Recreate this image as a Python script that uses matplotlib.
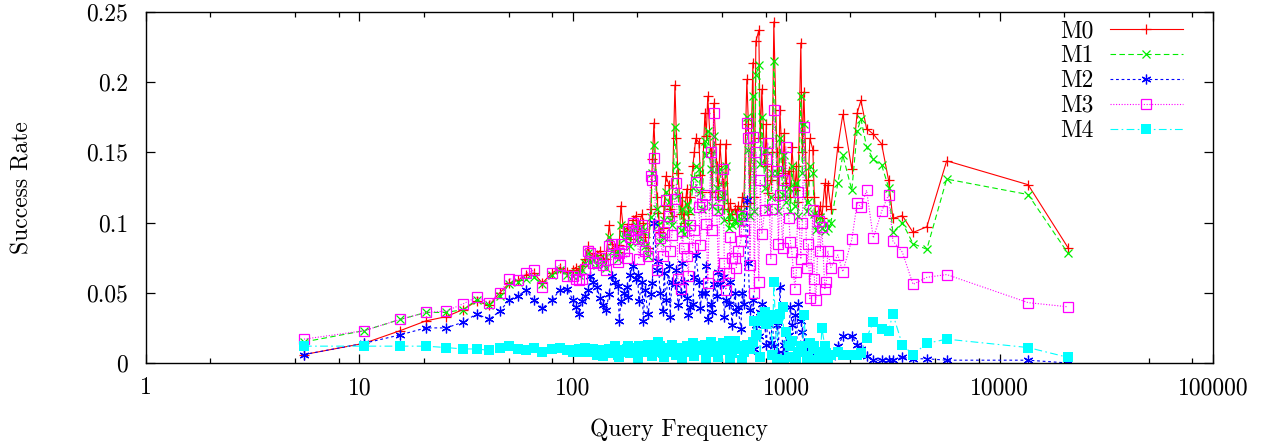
import matplotlib
matplotlib.use("Agg")
import numpy as np
import matplotlib.pyplot as plt
from matplotlib.ticker import FixedLocator, FixedFormatter, NullFormatter

# TeX-like look of the original gnuplot figure
plt.rcParams['font.family'] = 'serif'
plt.rcParams['font.serif'] = ['cmr10', 'DejaVu Serif']
plt.rcParams['axes.formatter.use_mathtext'] = True
plt.rcParams['font.size'] = 17

# query frequency (x) shared by all five methods
freq = [5.5, 10.5, 15.5, 20.5, 25.5, 30.5, 35.5, 40.5, 45.5, 50.5,
        55.5, 60.5, 65.5, 72, 80, 87, 94,
        100, 103, 107, 110, 114, 118, 121, 125, 130, 134,
        138, 143, 148, 152, 157, 163, 168, 173, 179, 185,
        191, 197, 204, 211, 218, 225, 232, 240, 248, 256,
        264, 273, 282, 291, 301, 311, 321, 331, 342, 354,
        365, 377, 390, 402, 416, 429, 443, 458, 473, 489,
        505, 521, 539, 556, 575, 594, 613, 633, 654, 676,
        698, 721, 744, 769, 794, 820, 847, 875, 904, 934,
        965, 996, 1029, 1063, 1098, 1134, 1171, 1210, 1250, 1291,
        1333, 1377, 1422, 1469, 1517, 1567, 1619, 1745, 1842,
        2030, 2150, 2240, 2380, 2560, 2800, 3020, 3160, 3500, 3930,
        4560, 5650, 13600, 20950]

m0 = [0.006, 0.014, 0.023, 0.030, 0.033, 0.038, 0.044, 0.041, 0.050, 0.057,
      0.059, 0.063, 0.064, 0.057, 0.064, 0.068, 0.065,
      .066, .068, .066, .069, .074, .083, .076, .078, .077, .080,
      .075, .074, .098, .085, .082, .079, .112, .094, .096, .088,
      .102, .105, .098, .106, .090, .082, .110, .171, .118, .093,
      .096, .133, .127, .105, .198, .135, .106, .100, .124, .118,
      .140, .160, .157, .122, .178, .190, .150, .185, .140, .156,
      .128, .156, .102, .106, .110, .112, .108, .112, .202, .114,
      .214, .229, .237, .195, .140, .121, .130, .243, .150, .180,
      .135, .128, .137, .154, .123, .115, .228, .193, .118, .160,
      .152, .105, .106, .103, .128, .127, .110, .154, .177,
      0.138, 0.178, 0.187, 0.167, 0.163, 0.156, 0.130, 0.103, 0.105, 0.093,
      0.097, 0.144, 0.127, 0.082]

m1 = [0.015, 0.023, 0.031, 0.036, 0.036, 0.038, 0.045, 0.041, 0.048, 0.056,
      0.058, 0.060, 0.061, 0.056, 0.063, 0.066, 0.063,
      .062, .064, .063, .066, .071, .078, .072, .074, .070, .075,
      .072, .068, .090, .080, .078, .074, .098, .088, .090, .083,
      .095, .098, .090, .097, .083, .076, .104, .155, .110, .086,
      .090, .122, .115, .098, .168, .120, .095, .092, .113, .108,
      .125, .140, .138, .110, .158, .165, .138, .162, .125, .138,
      .118, .140, .096, .098, .102, .105, .100, .104, .175, .105,
      .190, .205, .212, .175, .125, .110, .118, .215, .135, .160,
      .120, .115, .125, .140, .112, .105, .190, .170, .108, .140,
      .135, .095, .098, .096, .094, .096, .100, .128, .148,
      0.123, 0.165, 0.174, 0.154, 0.145, 0.141, 0.125, 0.093, 0.100, 0.085,
      0.081, 0.131, 0.120, 0.078]

m2 = [0.006, 0.014, 0.020, 0.025, 0.025, 0.029, 0.035, 0.031, 0.037, 0.045,
      0.048, 0.052, 0.045, 0.039, 0.045, 0.052, 0.053,
      .045, .040, .035, .044, .048, .052, .062, .058, .054, .046,
      .041, .038, .049, .062, .058, .055, .044, .050, .054, .063,
      .069, .060, .044, .058, .052, .035, .049, .100, .066, .050,
      .037, .045, .069, .058, .056, .041, .050, .058, .046, .040,
      .042, .077, .058, .050, .050, .031, .042, .056, .048, .056,
      .061, .045, .042, .027, .050, .040, .024, .042, .116, .038,
      .045, .027, .019, .042, .027, .032, .014, .012, .027, .054,
      .007, .014, .020, .027, .034, .042, .030, .014, .010, .007,
      .005, .008, .005, .009, .007, .005, .004, .012, .019,
      0.019, 0.013, 0.010, 0.005, 0.002, 0.002, 0.002, 0.002, 0.004, 0.003,
      0.003, 0.002, 0.002, 0.000]

m3 = [0.017, 0.023, 0.031, 0.036, 0.037, 0.042, 0.047, 0.043, 0.050, 0.060,
      0.059, 0.064, 0.066, 0.054, 0.064, 0.070, 0.062,
      .062, .060, .059, .060, .067, .080, .078, .071, .072, .075,
      .070, .066, .083, .085, .074, .072, .085, .080, .075, .090,
      .100, .095, .074, .098, .080, .076, .133, .146, .066, .089,
      .076, .116, .105, .091, .117, .060, .053, .082, .076, .098,
      .082, .129, .111, .113, .120, .057, .150, .178, .109, .120,
      .138, .052, .064, .075, .075, .080, .087, .095, .171, .070,
      .161, .150, .058, .092, .109, .157, .074, .180, .137, .120,
      .082, .154, .103, .079, .053, .122, .074, .168, .068, .046,
      .109, .045, .101, .097, .053, .080, .068, .077, .065,
      0.088, 0.114, 0.111, 0.123, 0.089, 0.108, 0.120, 0.087, 0.079, 0.056,
      0.061, 0.063, 0.043, 0.040]

m4 = [0.012, 0.012, 0.012, 0.012, 0.011, 0.010, 0.010, 0.009, 0.011, 0.012,
      0.010, 0.009, 0.011, 0.008, 0.010, 0.011, 0.009,
      .008, .009, .010, .008, .011, .009, .008, .010, .006, .009,
      .005, .008, .010, .007, .012, .006, .009, .008, .010, .007,
      .011, .009, .012, .008, .010, .013, .009, .011, .008, .012,
      .007, .010, .008, .013, .010, .007, .011, .009, .012, .008,
      .014, .010, .012, .009, .013, .011, .015, .008, .012, .010,
      .014, .009, .016, .007, .016, .010, .012, .008, .013, .010,
      .015, .020, .030, .033, .036, .030, .034, .058, .003, .035,
      .040, .022, .004, .016, .002, .008, .012, .034, .003, .014,
      .010, .002, .008, .025, .012, .003, .006, .008, .006,
      0.006, 0.006, 0.007, 0.018, 0.029, 0.024, 0.023, 0.035, 0.013, 0.006,
      0.014, 0.017, 0.011, 0.004]

# extra queries in the crowded 150-1600 band (merged with the ones above)
freq_extra = [165, 182, 201, 214, 236, 252, 268, 286, 306, 326,
              348, 371, 396, 422, 450, 481, 513, 547, 584, 623,
              665, 709, 756, 807, 861, 919, 980, 1046, 1116, 1190,
              1270, 1355, 1445, 1542]
m0_extra = [.084, .099, .092, .100, .145, .107, .112, .110, .160, .118,
            .106, .150, .134, .162, .122, .118, .110, .114, .106, .118,
            .170, .118, .160, .170, .150, .118, .164, .118, .140, .150,
            .130, .118, .112, .112]
m1_extra = [.080, .093, .086, .094, .135, .098, .102, .102, .140, .110,
            .098, .132, .122, .148, .112, .108, .102, .106, .100, .108,
            .152, .108, .142, .152, .135, .108, .148, .108, .128, .135,
            .115, .106, .104, .100]
m2_extra = [.030, .047, .063, .030, .057, .073, .064, .033, .066, .071,
            .034, .061, .039, .069, .036, .065, .033, .058, .037, .050,
            .071, .010, .036, .013, .032, .007, .013, .040, .006, .022,
            .003, .002, .004, .002]
m3_extra = [.078, .094, .088, .090, .130, .098, .093, .080, .128, .094,
            .062, .095, .084, .099, .095, .062, .071, .090, .068, .105,
            .160, .050, .130, .145, .110, .085, .130, .086, .065, .100,
            .085, .060, .080, .058]
m4_extra = [.004, .012, .003, .009, .005, .015, .004, .011, .006, .003,
            .010, .005, .012, .003, .010, .004, .013, .003, .011, .002,
            .011, .030, .004, .028, .006, .031, .002, .012, .003, .008,
            .005, .012, .002, .007]

labels = ['M0', 'M1', 'M2', 'M3', 'M4']
colors = ['#ff0000', '#00ee00', '#0000ff', '#ff00ff', '#00ffff']
xticks = [1, 10, 100, 1000, 10000, 100000]
xtick_labels = ['1', '10', '100', '1000', '10000', '100000']
xminor = [2, 5, 8, 20, 50, 80, 200, 500, 800, 2000, 5000, 8000, 20000, 50000, 80000]
yticks = [0, 0.05, 0.1, 0.15, 0.2, 0.25]
ytick_labels = ['0', '0.05', '0.1', '0.15', '0.2', '0.25']

# merge the two sets of queries into one table sorted by frequency
x_all = np.array(freq + freq_extra)
order = np.argsort(x_all)
x_all = x_all[order]
series = [np.array(a + b)[order] for a, b in
          [(m0, m0_extra), (m1, m1_extra), (m2, m2_extra),
           (m3, m3_extra), (m4, m4_extra)]]

fig = plt.figure(figsize=(12.74, 4.43), dpi=100)
ax = fig.add_axes([146 / 1274, 80 / 443, 1067 / 1274, 351 / 443])

ax.plot(x_all, series[0], color=colors[0], lw=0.8, ls='-',
        marker='+', ms=7, mew=0.9, label=labels[0])
ax.plot(x_all, series[1], color=colors[1], lw=0.8, ls=(0, (5, 3)),
        marker='x', ms=6, mew=0.9, label=labels[1])
ax.plot(x_all, series[2], color=colors[2], lw=0.8, ls=(0, (2.5, 2.5)),
        marker=(6, 2, 0), ms=7, mew=0.9, label=labels[2])
ax.plot(x_all, series[3], color=colors[3], lw=0.8, ls=(0, (1, 1.5)),
        marker='s', ms=6.8, mew=0.9, mfc='none', label=labels[3])
ax.plot(x_all, series[4], color=colors[4], lw=0.8, ls=(0, (7, 3, 1.5, 3)),
        marker='s', ms=6.8, mew=0, label=labels[4])

ax.set_xscale('log')
ax.set_xlim(1, 100000)
ax.set_ylim(0, 0.25)

ax.xaxis.set_major_locator(FixedLocator(xticks))
ax.xaxis.set_major_formatter(FixedFormatter(xtick_labels))
ax.xaxis.set_minor_locator(FixedLocator(xminor))
ax.xaxis.set_minor_formatter(NullFormatter())
ax.yaxis.set_major_locator(FixedLocator(yticks))
ax.yaxis.set_major_formatter(FixedFormatter(ytick_labels))
ax.yaxis.set_minor_locator(FixedLocator([]))

ax.tick_params(which='both', direction='in', top=True, right=True, width=0.9)
ax.tick_params(which='major', length=6.5)
ax.tick_params(which='minor', length=3.5)
ax.tick_params(axis='x', pad=10)
ax.tick_params(axis='y', pad=13)
for s in ax.spines.values():
    s.set_linewidth(1.0)

ax.set_xlabel('Query Frequency', va='center')
ax.xaxis.set_label_coords(0.5, -0.191)
ax.set_ylabel('Success Rate', va='center')
ax.yaxis.set_label_coords(-0.116, 0.5)

ax.legend(loc='upper right', bbox_to_anchor=(1183 / 1274, 1 - 20 / 443),
          bbox_transform=fig.transFigure, frameon=False, markerfirst=False,
          handlelength=3.1, handletextpad=0.7, labelspacing=0.12,
          borderpad=0, borderaxespad=0)

fig.savefig('out.png', dpi=100)
